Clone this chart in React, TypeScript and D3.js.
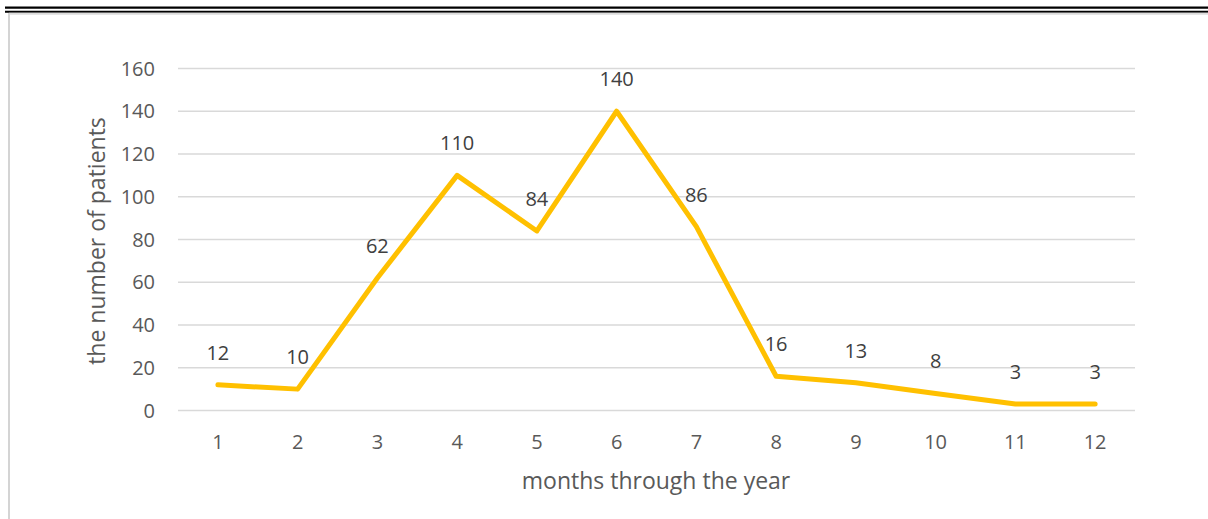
import React from "react";
import * as d3 from "d3";

const months = ["1", "2", "3", "4", "5", "6", "7", "8", "9", "10", "11", "12"];
const patients = [12, 10, 62, 110, 84, 140, 86, 16, 13, 8, 3, 3];
const yTicks = [0, 20, 40, 60, 80, 100, 120, 140, 160];

const W = 1208;
const H = 519;
const FONT = "'Open Sans', 'Liberation Sans', sans-serif";

export default function App() {
  const x = d3.scaleBand<string>().domain(months).range([178, 1135]);
  const y = d3.scaleLinear().domain([0, 160]).range([410.5, 68.5]);
  const line = d3
    .line<number>()
    .x((_, i) => (x(months[i]) as number) + x.bandwidth() / 2)
    .y((d) => y(d));

  return (
    <svg
      width={W}
      height={H}
      style={{ position: "absolute", left: 0, top: 0, background: "#fff" }}
      fontFamily={FONT}
    >
      <rect x={0} y={0} width={W} height={H} fill="#fff" />
      {/* frame */}
      <line x1={5} x2={W} y1={7.7} y2={7.7} stroke="#000" strokeWidth={2.2} />
      <line x1={5} x2={W} y1={11.7} y2={11.7} stroke="#000" strokeWidth={2} />
      <line x1={9} x2={W} y1={13.7} y2={13.7} stroke="#dcdcdc" strokeWidth={2} />
      <line x1={9} x2={9} y1={13} y2={H} stroke="#d4d4d4" strokeWidth={2} />

      {/* gridlines */}
      {yTicks.map((t) => (
        <line
          key={t}
          x1={178}
          x2={1135}
          y1={y(t)}
          y2={y(t)}
          stroke="#d9d9d9"
          strokeWidth={1.5}
        />
      ))}
      {/* y tick labels */}
      {yTicks.map((t) => (
        <text
          key={t}
          x={155}
          y={y(t)}
          dy="0.35em"
          textAnchor="end"
          fontSize={20}
          fill="#595959"
        >
          {t}
        </text>
      ))}
      {/* x tick labels */}
      {months.map((m) => (
        <text
          key={m}
          x={(x(m) as number) + x.bandwidth() / 2}
          y={442}
          dy="0.35em"
          textAnchor="middle"
          fontSize={20}
          fill="#595959"
        >
          {m}
        </text>
      ))}
      {/* line */}
      <path
        d={line(patients) || ""}
        fill="none"
        stroke="#FFC000"
        strokeWidth={5}
        strokeLinejoin="round"
        strokeLinecap="round"
      />
      {/* data labels */}
      {patients.map((v, i) => (
        <text
          key={i}
          x={(x(months[i]) as number) + x.bandwidth() / 2}
          y={y(v) - 32}
          dy="0.35em"
          textAnchor="middle"
          fontSize={20}
          fill="#404040"
        >
          {v}
        </text>
      ))}
      {/* axis titles */}
      <text
        x={656}
        y={481}
        dy="0.35em"
        textAnchor="middle"
        fontSize={23}
        fill="#595959"
      >
        months through the year
      </text>
      <text
        transform="translate(97,241) rotate(-90)"
        dy="0.35em"
        textAnchor="middle"
        fontSize={23}
        fill="#595959"
      >
        the number of patients
      </text>
    </svg>
  );
}
